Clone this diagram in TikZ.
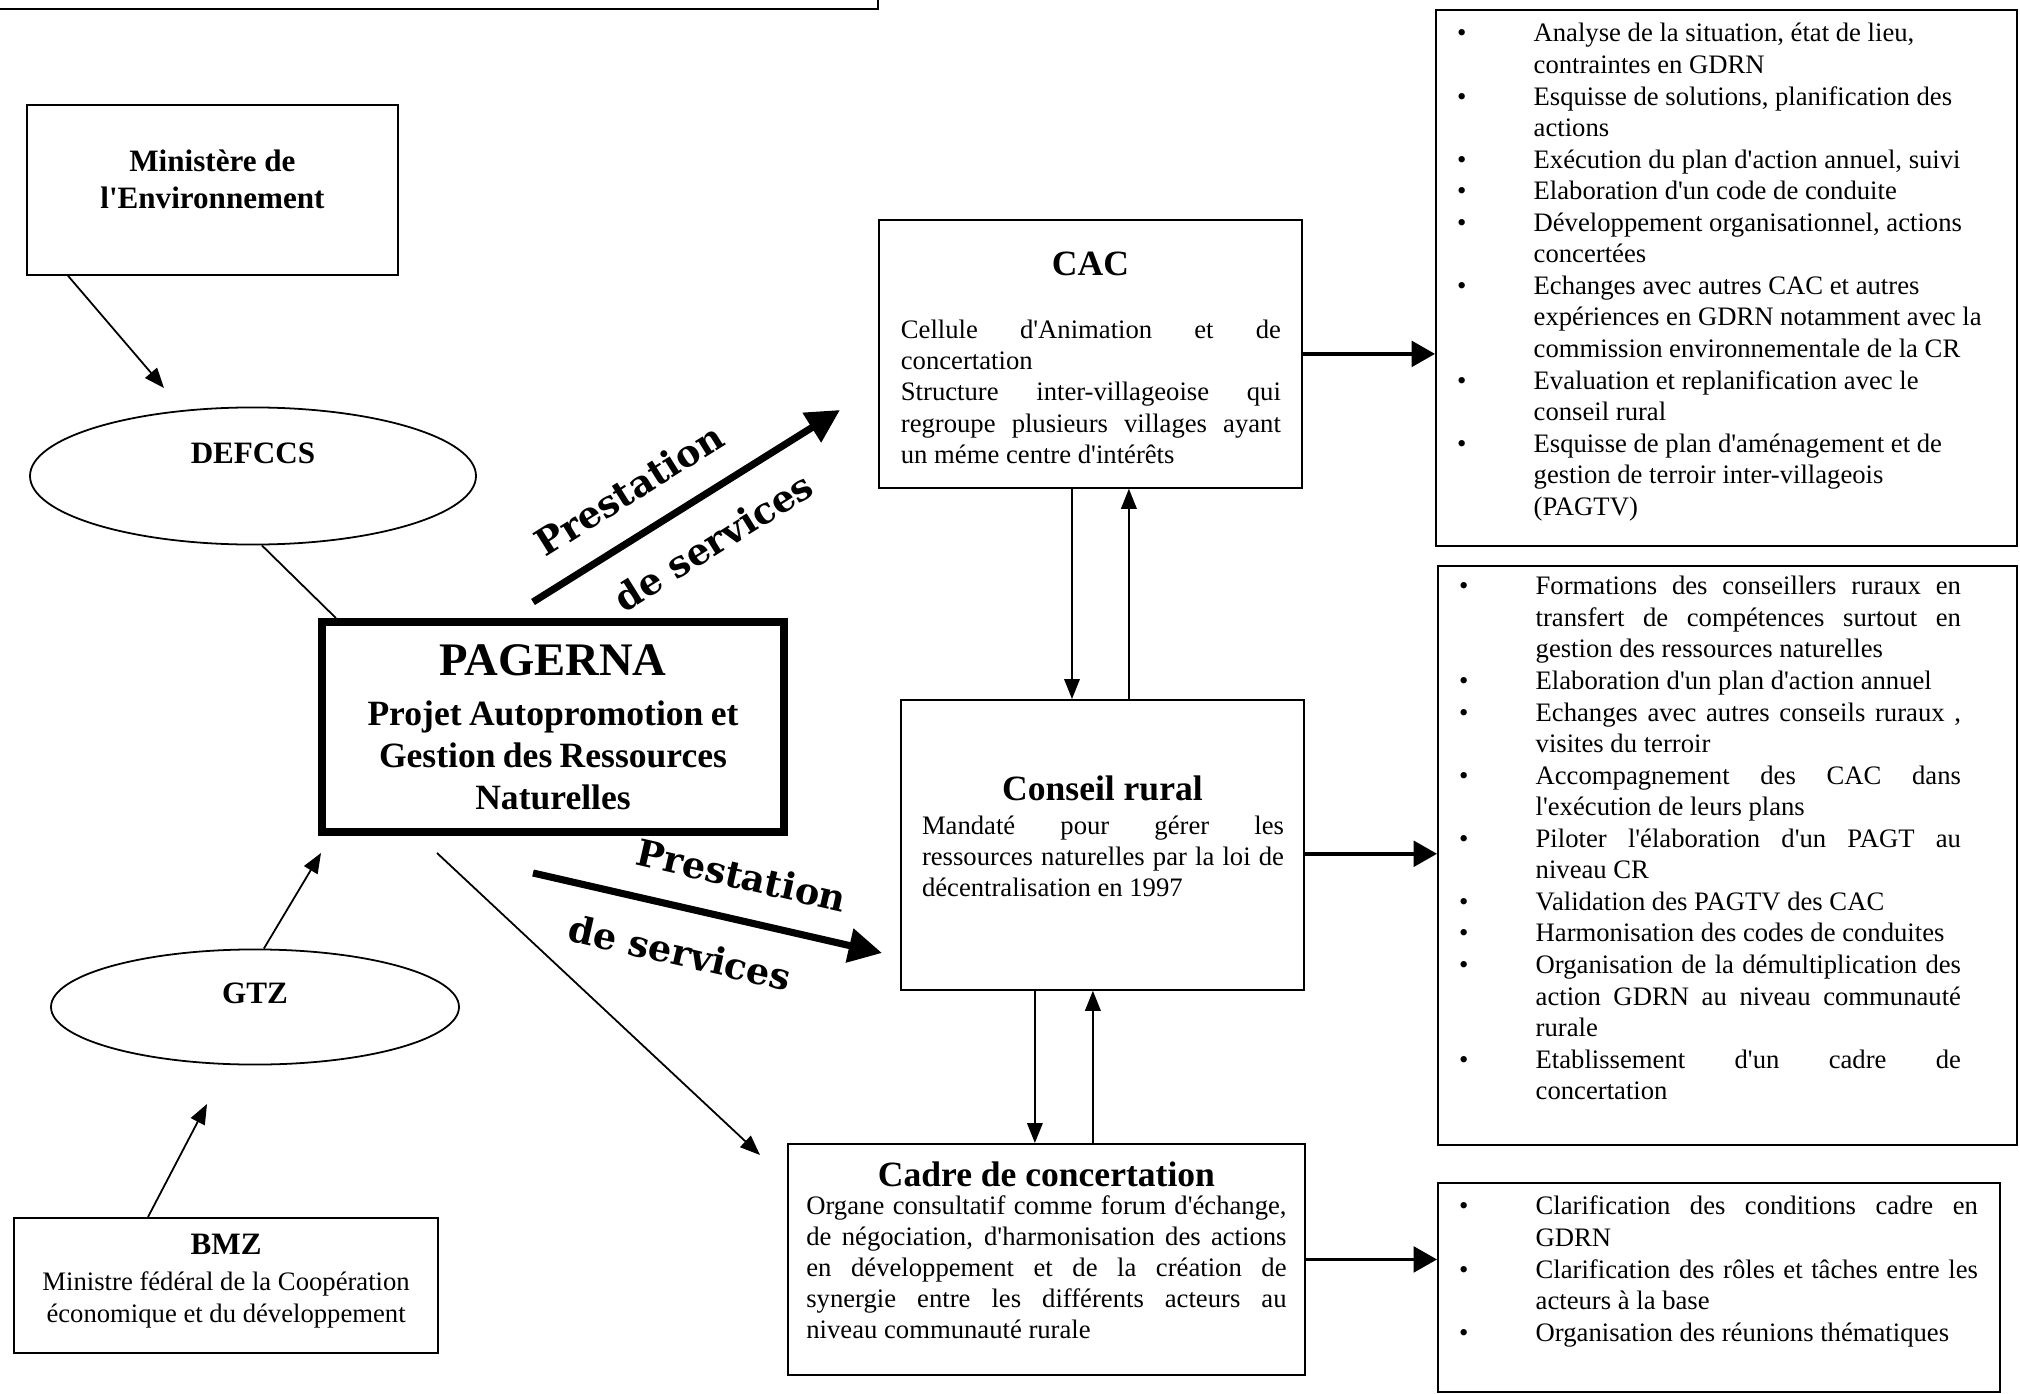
\documentclass[tikz,border=0pt]{standalone}
\usepackage{fontspec}
\setmainfont{Liberation Serif}[Ligatures=TeXOff]
\newfontfamily\servfont{DejaVu Serif}
\usetikzlibrary{arrows.meta,shapes.geometric}

% bullet with hanging text
\newcommand{\itm}{\par\noindent\hangindent=34.5pt\hangafter=1\strut\makebox[34.5pt][l]{\textbullet}}

\tikzset{
  infobox/.style={draw, line width=0.8pt, inner sep=0pt, anchor=north west, font=\fontsize{12}{14}\selectfont},
  oval/.style={ellipse, draw, line width=0.8pt, inner sep=0pt, font=\bfseries\fontsize{14}{16}\selectfont},
  arr/.style={line width=0.8pt, -{Triangle[length=9pt,width=7pt]}},
  fatarr/.style={line width=1.6pt, -{Triangle[length=10.5pt,width=11.5pt]}},
  servarr/.style={line width=3.2pt, -{Triangle[length=15pt,width=15pt]}},
  servlbl/.style={sloped, inner sep=0pt, font=\servfont\bfseries\fontsize{16.5}{18}\selectfont},
}

\begin{document}
\begin{tikzpicture}[x=0.45pt, y=-0.45pt]
\useasboundingbox (0,0) rectangle (2020,1394);

% box cut off at the top of the page
\draw[line width=0.8pt] (-20,-40) rectangle (878,9);

% left column
\node[infobox] (mine) at (26,104) {\parbox[c][76.5pt][t]{167pt}{\centering\bfseries\fontsize{14}{16.7}\selectfont
  \vspace*{20.1pt}Ministère de\\ l'Environnement}};
\node[oval, minimum width=200.7pt, minimum height=61.7pt, text depth=20.8pt] (defccs) at (253,476) {DEFCCS};
\node[oval, minimum width=183.6pt, minimum height=51.8pt, text depth=12.6pt] (gtz) at (255,1007) {GTZ};
\node[infobox] (bmz) at (13,1217) {\parbox[c][60.75pt][t]{191pt}{\centering\fontsize{12}{14}\selectfont
  \vspace*{7.5pt}{\bfseries\fontsize{14}{16}\selectfont BMZ\par}\vspace{2.2pt}
  Ministre fédéral de la Coopération\\ économique et du développement}};

% project
\node[draw, line width=3.6pt, minimum width=207.8pt, minimum height=94.5pt, inner sep=0pt,
  text width=200pt, align=center, font=\bfseries] (pagerna) at (553,727)
  {{\fontsize{21}{22.5}\selectfont PAGERNA\par}\vspace{3.5pt}
   {\fontsize{16}{19}\selectfont Projet Autopromotion et\\ Gestion des Ressources\\ Naturelles\par}};

% middle column
\node[infobox] (cac) at (878,219) {\parbox[c][120.6pt][t]{190.4pt}{\vspace*{14.5pt}
  {\centering\bfseries\fontsize{16}{19}\selectfont CAC\par}\vspace{14.4pt}
  \leftskip=9.9pt\rightskip=9.5pt
  Cellule d'Animation et de\linebreak concertation\par
  Structure inter-villageoise qui\linebreak regroupe plusieurs villages ayant\linebreak un méme centre d'intérêts}};
\node[infobox] (cr) at (900,699) {\parbox[c][130.5pt][t]{181.4pt}{\vspace*{34pt}
  {\centering\bfseries\fontsize{16}{19}\selectfont Conseil rural\par}\vspace{1.3pt}
  \leftskip=9.5pt\rightskip=9pt
  Mandaté pour gérer les\linebreak ressources naturelles par la loi de\linebreak décentralisation en 1997}};
\node[infobox] (cadre) at (787,1143) {\parbox[c][104pt][t]{232.7pt}{\vspace*{8pt}
  {\centering\bfseries\fontsize{16}{19}\selectfont Cadre de concertation\par}\vspace{-1.4pt}
  \leftskip=8.3pt\rightskip=8.3pt
  Organe consultatif comme forum d'échange,\linebreak de négociation, d'harmonisation des actions\linebreak
  en développement et de la création de\linebreak synergie entre les différents acteurs au\linebreak
  niveau communauté rurale}};

% right column
\node[infobox] (tasks1) at (1435,9) {\parbox[c][241.2pt][t]{261.5pt}{\fontsize{12}{14.2}\selectfont\vspace*{4.5pt}
  \leftskip=9.5pt\rightskip=10pt plus 1fil
  \itm Analyse de la situation, état de lieu,\\ contraintes en GDRN
  \itm Esquisse de solutions, planification des\\ actions
  \itm Exécution du plan d'action annuel, suivi
  \itm Elaboration d'un code de conduite
  \itm Développement organisationnel, actions\\ concertées
  \itm Echanges avec autres CAC et autres\\ expériences en GDRN notamment avec la\\ commission environnementale de la CR
  \itm Evaluation et replanification avec le\\ conseil rural
  \itm Esquisse de plan d'aménagement et de\\ gestion de terroir inter-villageois\\ (PAGTV)}};
\node[infobox] (tasks2) at (1437,565) {\parbox[c][260.6pt][t]{260.6pt}{\fontsize{12}{14.2}\selectfont\vspace*{3.1pt}
  \leftskip=9.5pt\rightskip=25.2pt
  \itm Formations des conseillers ruraux en\linebreak transfert de compétences surtout en\linebreak gestion des ressources naturelles
  \itm Elaboration d'un plan d'action annuel
  \itm Echanges avec autres conseils ruraux ,\linebreak visites du terroir
  \itm Accompagnement des CAC dans\linebreak l'exécution de leurs plans
  \itm Piloter l'élaboration d'un PAGT au\linebreak niveau CR
  \itm Validation des PAGTV des CAC
  \itm Harmonisation des codes de conduites
  \itm Organisation de la démultiplication des\linebreak action GDRN au niveau communauté\linebreak rurale
  \itm Etablissement d'un cadre de\linebreak concertation}};
\node[infobox] (tasks3) at (1437,1182) {\parbox[c][94pt][t]{252.9pt}{\fontsize{12}{14.2}\selectfont\vspace*{4.5pt}
  \leftskip=9.5pt\rightskip=9.9pt
  \itm Clarification des conditions cadre en\linebreak GDRN
  \itm Clarification des rôles et tâches entre les\linebreak acteurs à la base
  \itm Organisation des réunions thématiques}};

% free ends of the connectors
\coordinate (defccs-tip) at (164,388);
\coordinate (pag-tip) at (321,853);
\coordinate (gtz-tip) at (207,1104);
\coordinate (pag-out) at (437,853);
\coordinate (cadre-tip) at (760,1155);
\coordinate (serv1-a) at (533,602);
\coordinate (serv1-b) at (840,410);
\coordinate (serv2-a) at (533,873);
\coordinate (serv2-b) at (882,953);

% connectors
\draw[arr] ([xshift=18.9pt]mine.south west) -- (defccs-tip);
\draw[line width=0.8pt] ([xshift=4pt]defccs.south) -- ([xshift=8pt]pagerna.north west);
\draw[arr] ([xshift=4pt]gtz.north) -- (pag-tip);
\draw[arr] ([xshift=60.75pt]bmz.north west) -- (gtz-tip);
\draw[arr] (pag-out) -- (cadre-tip);

\draw[servarr] (serv1-a) -- node[servlbl, pos=.39, above=12pt] {Prestation}
  node[servlbl, pos=.51, below=12pt] {de services} (serv1-b);
\draw[servarr] (serv2-a) -- node[servlbl, pos=.57, above=12pt] {Prestation}
  node[servlbl, pos=.45, below=12pt] {de services} (serv2-b);

\draw[arr] ([xshift=-8.3pt]cac.south) -- ([xshift=-8.3pt]cac.south |- cr.north);
\draw[arr] ([xshift=17.3pt]cac.south |- cr.north) -- ([xshift=17.3pt]cac.south);
\draw[arr] ([xshift=-30.4pt]cr.south) -- ([xshift=-30.4pt]cr.south |- cadre.north);
\draw[arr] ([xshift=-4.3pt]cr.south |- cadre.north) -- ([xshift=-4.3pt]cr.south);

\draw[fatarr] (cac.east) -- (cac.east -| tasks1.west);
\draw[fatarr] ([yshift=-4pt]cr.east) -- ([yshift=-4pt]cr.east -| tasks2.west);
\draw[fatarr] (cadre.east) -- (cadre.east -| tasks3.west);
\end{tikzpicture}
\end{document}
